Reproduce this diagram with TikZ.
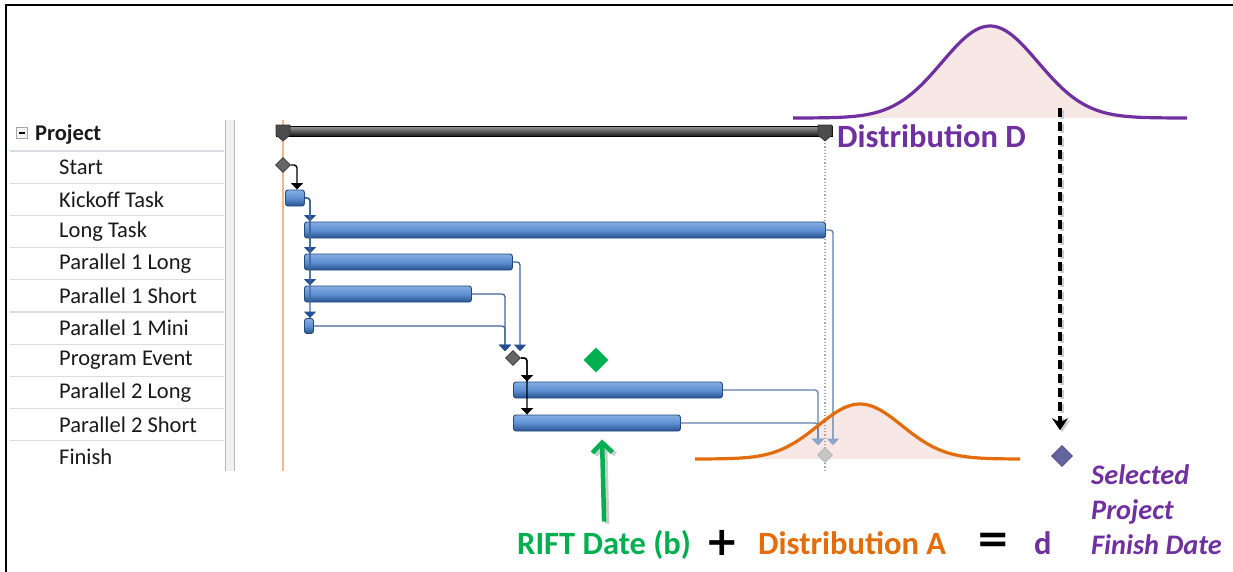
\documentclass[tikz,border=0pt]{standalone}
\usepackage{fontspec}
\setmainfont{Carlito}
\newfontfamily\symfont{DejaVu Sans}
\usetikzlibrary{shapes.geometric,arrows.meta,calc}
\definecolor{barlight}{HTML}{86AEE4}
\definecolor{barmid}{HTML}{5F90D2}
\definecolor{bardark}{HTML}{27538F}
\definecolor{barborder}{HTML}{244A7C}
\definecolor{linkblue}{HTML}{42679C}
\definecolor{arrowblue}{HTML}{244F94}
\definecolor{fadeblue}{HTML}{8FA5C8}
\definecolor{orangeline}{HTML}{F7B78A}
\definecolor{distA}{HTML}{E46C0A}
\definecolor{distD}{HTML}{7030A0}
\definecolor{pinkfill}{HTML}{F7E7E5}
\definecolor{riftgreen}{HTML}{00B050}
\definecolor{selblue}{HTML}{6464A0}
\definecolor{rowgray}{HTML}{D9DDE3}
\definecolor{textdark}{HTML}{1A1A1A}
\begin{document}
\begin{tikzpicture}[x=1pt,y=-1pt,
  task/.style={anchor=west,inner sep=0,font=\fontsize{22.5}{25}\selectfont,text=textdark},
  bar/.style={draw=barborder,line width=0.9pt,rounded corners=2.5pt,top color=barlight,bottom color=bardark,middle color=barmid,inner sep=0,minimum height=16pt,anchor=west},
  sumbar/.style={draw=black,line width=0.9pt,top color=gray!75,bottom color=black!90,inner sep=0,minimum height=10pt,anchor=west},
  mile/.style={diamond,inner sep=0,minimum size=15pt,fill=gray!80!black,draw=gray!40!black,line width=0.6pt},
  link/.style={draw=linkblue,line width=1.3pt,rounded corners=3pt,-{Triangle[width=12pt,length=6.5pt,color=arrowblue]}},
  blklink/.style={draw=black,line width=1.4pt,rounded corners=3pt,-{Triangle[width=12pt,length=6.5pt]}},
  fadelink/.style={draw=linkblue!85,line width=1.3pt,rounded corners=3pt,-{Triangle[width=12pt,length=6.5pt,color=fadeblue]}},
  big/.style={inner sep=0,font=\fontsize{32.5}{35}\selectfont\bfseries},
  opsym/.style={inner sep=0,font=\symfont\fontsize{40}{42}\selectfont\bfseries},
  sel/.style={anchor=base west,inner sep=0,font=\fontsize{28.3}{30}\selectfont\bfseries\itshape,text=distD}
]
\useasboundingbox (0,0) rectangle (1233,571);
\fill[white] (0,0) rectangle (1233,571);
% frame
\draw[line width=1.8pt] (6,575) -- (6,5) -- (1240,5);

% distribution fills
\fill[pinkfill] plot[domain=793:1187,samples=140] (\x,{118-92/exp(0.5*((\x-990)/48)^2)}) -- cycle;
\fill[pinkfill] plot[domain=695:1020,samples=140] (\x,{459-55/exp(0.5*((\x-860)/42)^2)}) -- cycle;

% table
\foreach \yy in {151,183.2,215.4,247.6,279.8,312,344.2,376.4,408.6,440.8}
  \draw[rowgray,line width=1.2pt] (10,\yy) -- (224,\yy);
\fill[gray!12] (225,120) rectangle (234,471);
\draw[gray!55,line width=1pt] (225,120) -- (225,471);
\draw[gray!55,line width=1pt] (234,120) -- (234,471);
\node[draw=gray!70,fill=gray!8,minimum size=11pt,inner sep=0] (minus) at (22,133) {};
\draw[line width=1.2pt] ($(minus.center)+(-3,0)$) -- ($(minus.center)+(3,0)$);
\node[task,font=\fontsize{22.5}{25}\selectfont\bfseries] (tproj) at (35,135) {Project};
\node[task] (t1) at (59,167.2) {Start};
\node[task] (t2) at (59,199.4) {Kickoff Task};
\node[task] (t3) at (59,231.6) {Long Task};
\node[task] (t4) at (59,263.8) {Parallel 1 Long};
\node[task] (t5) at (59,296) {Parallel 1 Short};
\node[task] (t6) at (59,328.2) {Parallel 1 Mini};
\node[task] (t7) at (59,360.4) {Program Event};
\node[task] (t8) at (59,392.6) {Parallel 2 Long};
\node[task] (t9) at (59,424.8) {Parallel 2 Short};
\node[task] (t10) at (59,457) {Finish};

% gantt
\draw[gray!70,dotted,line width=1.2pt] (825,140) -- (825,472);
\draw[orangeline,line width=1.6pt] (283,120) -- (283,471);
\node[sumbar,minimum width=556pt] (proj) at (276,131) {};
\fill[gray!60!black,draw=black!80,line width=0.7pt] (276,125) -- (290,125) -- (290,135) -- (283,141) -- (276,135) -- cycle;
\fill[gray!60!black,draw=black!80,line width=0.7pt] (818,125) -- (832,125) -- (832,135) -- (825,141) -- (818,135) -- cycle;

\node[mile] (start) at (283,165) {};
\node[bar,minimum width=19pt] (kick) at (285,198) {};
\node[bar,minimum width=521pt] (lt) at (304,230) {};
\node[bar,minimum width=208pt] (p1l) at (304,262) {};
\node[bar,minimum width=167pt] (p1s) at (304,294) {};
\node[bar,minimum width=9pt,minimum height=15pt] (p1m) at (304,326) {};
\node[mile] (pe) at (513,358) {};
\node[bar,minimum width=209pt] (p2l) at (513,390) {};
\node[bar,minimum width=167pt] (p2s) at (513,423) {};
\node[mile,fill=gray!45,draw=gray!60] (fin) at (825,455) {};
\node[diamond,inner sep=0,minimum size=25pt,fill=riftgreen] (gdia) at (596,360) {};

\draw[blklink] (start.east) -| ($(kick.north west)+(12,0)$);
\draw[link] (kick.east) -| ($(lt.north west)+(6,0)$);
\draw[link] (kick.east) -| ($(p1l.north west)+(6,0)$);
\draw[link] (kick.east) -| ($(p1s.north west)+(6,0)$);
\draw[link] (kick.east) -| ($(p1m.north west)+(6,0)$);
\draw[link] (p1l.east) -| ($(pe.north)+(7,1)$);
\draw[link] (p1s.east) -| ($(pe.north)+(-8,1)$);
\draw[link] (p1m.east) -| ($(pe.north)+(-8,1)$);
\draw[blklink] (pe.east) -| ($(p2l.north west)+(14,0)$);
\draw[blklink] (pe.east) -| ($(p2s.north west)+(14,0)$);
\draw[fadelink] (p2l.east) -| ($(fin.north)+(-7,-2)$);
\draw[fadelink] (p2s.east) -| ($(fin.north)+(-7,-2)$);
\draw[fadelink] (lt.east) -| ($(fin.north)+(8,-2)$);

% distribution curves
\draw[distD,line width=3.2pt] plot[domain=793:1187,samples=140] (\x,{118-92/exp(0.5*((\x-990)/48)^2)});
\draw[distA,line width=3.2pt] plot[domain=695:1020,samples=140] (\x,{459-55/exp(0.5*((\x-860)/42)^2)});

% labels
\node[big,anchor=west,text=distD] (dd) at (837,136) {Distribution D};
\node[diamond,inner sep=0,minimum size=21pt,fill=selblue,draw=selblue!70!black,line width=0.6pt] (seld) at (1062,456) {};
\coordinate (dtop) at (1060,108);
\draw[gray!40,line width=3.4pt,dash pattern=on 9pt off 5pt,-{Stealth[length=12pt,width=16pt,inset=4pt]},shorten >=15pt] ($(dtop)+(2,2)$) -- ($(dtop |- seld.north)+(2,2)$);
\draw[black,line width=3.4pt,dash pattern=on 9pt off 5pt,-{Stealth[length=12pt,width=16pt,inset=4pt]},shorten >=15pt] (dtop) -- (dtop |- seld.north);
\node[sel] (s1) at (1091,484) {Selected};
\node[sel] (s2) at (1091,519) {Project};
\node[sel] (s3) at (1091,554) {Finish Date};

\node[big,anchor=base west,text=riftgreen] (rift) at (517,554) {RIFT Date (b)};
\node[opsym] (plus) at (722,543) {+};
\node[big,anchor=base west,text=distA] (da) at (758,554) {Distribution A};
\node[opsym] (eq) at (993,543) {=};
\node[big,anchor=base west,text=distD] (dsm) at (1034,554) {d};
\draw[gray!40,line width=4.5pt,-{Straight Barb[length=10pt,width=20pt]}] ($(rift.north)+(3,-6)$) -- ($(p2s.south west)+(92,10)$);
\draw[riftgreen,line width=4.5pt,-{Straight Barb[length=10pt,width=20pt]}] ($(rift.north)+(0,-8)$) -- ($(p2s.south west)+(89,8)$);
\end{tikzpicture}
\end{document}
